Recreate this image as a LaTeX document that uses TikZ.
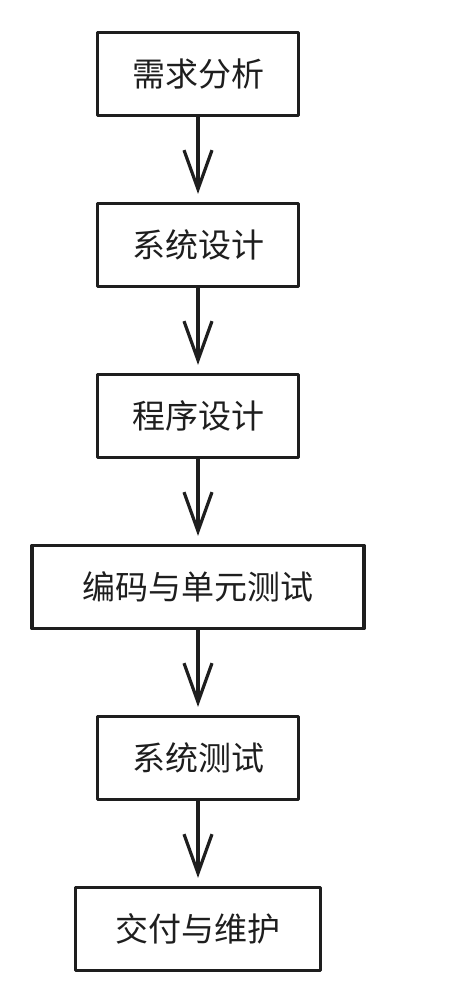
\documentclass[tikz,border=0pt]{standalone}
\usepackage{fontspec}
\newfontfamily\cjk{Noto Sans CJK SC}
\usetikzlibrary{positioning}
\usetikzlibrary{arrows.meta}
\definecolor{ink}{RGB}{30,30,30}
\tikzset{every picture/.style={/utils/exec={\cjk}}}
\tikzset{
  phase/.style={draw=ink, text=ink, line width=3.2pt, line join=round, minimum width=201pt,
    minimum height=83pt, inner sep=0pt, font=\fontsize{33}{36}\selectfont},
  flow/.style={draw=ink, line width=3.2pt, shorten >=8pt,
    -{Straight Barb[length=39pt, width=28pt, line width=3.2pt]}}
}

\begin{document}
\begin{tikzpicture}[x=1pt, y=1pt]
  \useasboundingbox (0,0) rectangle (453,987);

  \node [phase] (req) at (198,913) {需求分析};
  \node [phase, below=84.8pt of req] (sysdes) {系统设计};
  \node [phase, below=84.8pt of sysdes] (progdes) {程序设计};
  \node [phase, minimum width=332pt, below=84.8pt of progdes] (code) {编码与单元测试};
  \node [phase, below=84.8pt of code] (systest) {系统测试};
  \node [phase, minimum width=245pt, below=84.8pt of systest] (deliver) {交付与维护};

  % phase to phase:
  \draw [flow] (req) -- (sysdes);
  \draw [flow] (sysdes) -- (progdes);
  \draw [flow] (progdes) -- (code);
  \draw [flow] (code) -- (systest);
  \draw [flow] (systest) -- (deliver);

\end{tikzpicture}
\end{document}
